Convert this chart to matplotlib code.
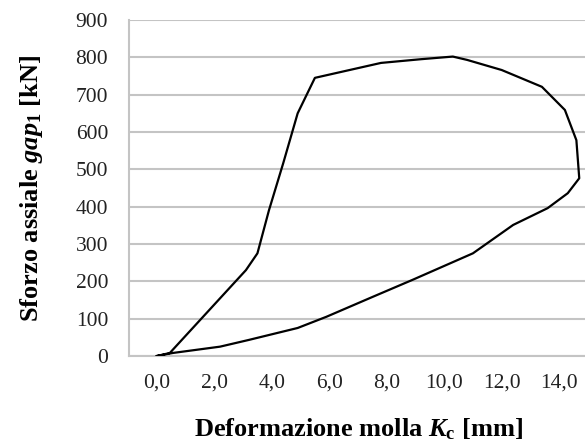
import matplotlib
matplotlib.use("Agg")
import matplotlib.pyplot as plt

# Ciclo forza-spostamento della molla (carico + scarico)
deformazione = [0.0, 0.45, 3.1, 3.5, 3.9, 4.4, 4.9, 5.5, 7.8, 9.2, 10.3, 10.8,
                12.0, 13.4, 14.2, 14.6, 14.7, 14.3, 13.6, 12.4, 11.0, 8.9,
                7.5, 5.9, 4.9, 3.2, 2.2, 0.55, 0.0]
sforzo = [0, 8, 230, 275, 390, 517, 650, 745, 785, 795, 802, 793,
          766, 721, 659, 578, 476, 436, 396, 351, 275, 204,
          158, 105, 75, 43, 25, 8, 0]

x_ticks = [0, 2, 4, 6, 8, 10, 12, 14]
x_tick_labels = ["0,0", "2,0", "4,0", "6,0", "8,0", "10,0", "12,0", "14,0"]
y_ticks = [0, 100, 200, 300, 400, 500, 600, 700, 800, 900]

plt.rcParams["font.family"] = "Liberation Serif"
plt.rcParams["mathtext.fontset"] = "custom"
plt.rcParams["mathtext.rm"] = "Liberation Serif:bold"
plt.rcParams["mathtext.it"] = "Liberation Serif:italic:bold"
plt.rcParams["mathtext.bf"] = "Liberation Serif:bold"

fig = plt.figure(figsize=(5.85, 4.48), dpi=100)
ax = fig.add_axes([0.2205, 0.2054, 0.7795, 0.7500])

ax.plot(deformazione, sforzo, color="black", lw=1.6, zorder=3)

ax.set_xlim(-0.97, 14.9)
ax.set_ylim(0, 900)
ax.set_xticks(x_ticks)
ax.set_xticklabels(x_tick_labels)
ax.set_yticks(y_ticks)
ax.tick_params(length=0, labelsize=15.5, colors="#222222")
ax.tick_params(axis="y", pad=15)
ax.tick_params(axis="x", pad=13)

ax.grid(True, axis="y", color="#c4c4c4", lw=1.5)
for s in ["top", "right"]:
    ax.spines[s].set_visible(False)
for s in ["left", "bottom"]:
    ax.spines[s].set_color("#c4c4c4")
    ax.spines[s].set_linewidth(1.5)

ax.set_xlabel(r"Deformazione molla $K_{\mathrm{c}}$ [mm]",
              fontsize=19, fontweight="bold")
ax.set_ylabel(r"Sforzo assiale $gap_{\mathrm{1}}$ [kN]",
              fontsize=19, fontweight="bold")
ax.xaxis.set_label_coords(0.504, -0.18)
ax.yaxis.set_label_coords(-0.185, 0.5)

fig.savefig("out.png", dpi=100)
